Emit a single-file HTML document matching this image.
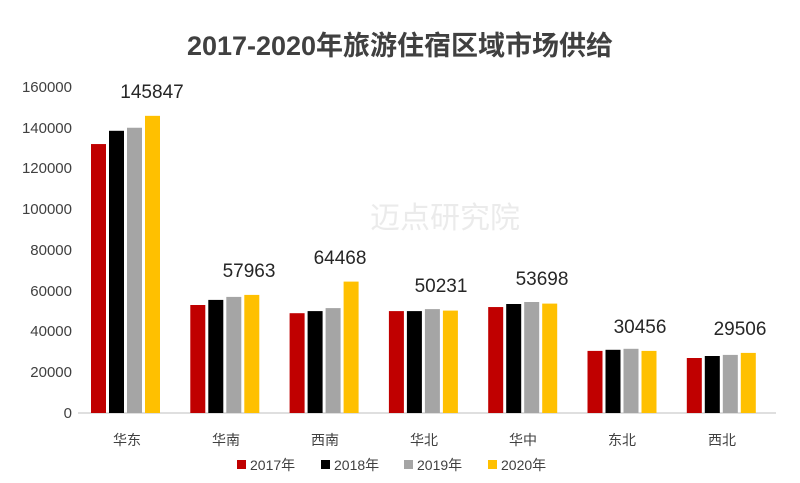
<!DOCTYPE html>
<html><head><meta charset="utf-8"><style>
body{margin:0;background:#fff;}
svg{display:block;font-family:"Liberation Sans","Noto Sans CJK SC",sans-serif;}
</style></head><body>
<svg width="800" height="483" viewBox="0 0 800 483">
<rect width="800" height="483" fill="#fff"/>
<text x="400" y="55" text-anchor="middle" font-size="27" font-weight="bold" fill="#404040">2017-2020年旅游住宿区域市场供给</text>
<g font-size="15" fill="#404040" text-anchor="end">
<text x="72" y="418">0</text>
<text x="72" y="377">20000</text>
<text x="72" y="336">40000</text>
<text x="72" y="296">60000</text>
<text x="72" y="255">80000</text>
<text x="72" y="214">100000</text>
<text x="72" y="173">120000</text>
<text x="72" y="133">140000</text>
<text x="72" y="92">160000</text>
</g>
<line x1="78" y1="413" x2="776" y2="413" stroke="#bfbfbf" stroke-width="1"/>
<g opacity="0.12" font-size="30" fill="#606060"><text x="370" y="228">迈点研究院</text></g>
<g>
<rect x="91" y="144.05" width="15" height="268.95" fill="#c00000"/>
<rect x="109" y="130.8" width="15" height="282.2" fill="#000"/>
<rect x="127" y="127.75" width="15" height="285.25" fill="#a5a5a5"/>
<rect x="145" y="115.84" width="15" height="297.16" fill="#ffc000"/>

<rect x="190.3" y="305" width="15" height="108" fill="#c00000"/>
<rect x="208.3" y="299.9" width="15" height="113.1" fill="#000"/>
<rect x="226.3" y="296.9" width="15" height="116.1" fill="#a5a5a5"/>
<rect x="244.3" y="294.9" width="15" height="118.1" fill="#ffc000"/>

<rect x="289.6" y="313.2" width="15" height="99.8" fill="#c00000"/>
<rect x="307.6" y="311.1" width="15" height="101.9" fill="#000"/>
<rect x="325.6" y="308.1" width="15" height="104.9" fill="#a5a5a5"/>
<rect x="343.6" y="281.6" width="15" height="131.4" fill="#ffc000"/>

<rect x="388.9" y="311.1" width="15" height="101.9" fill="#c00000"/>
<rect x="406.9" y="311.1" width="15" height="101.9" fill="#000"/>
<rect x="424.9" y="309.1" width="15" height="103.9" fill="#a5a5a5"/>
<rect x="442.9" y="310.6" width="15" height="102.4" fill="#ffc000"/>

<rect x="488.2" y="307.05" width="15" height="105.95" fill="#c00000"/>
<rect x="506.2" y="304" width="15" height="109" fill="#000"/>
<rect x="524.2" y="302" width="15" height="111" fill="#a5a5a5"/>
<rect x="542.2" y="303.6" width="15" height="109.4" fill="#ffc000"/>

<rect x="587.5" y="350.9" width="15" height="62.1" fill="#c00000"/>
<rect x="605.5" y="349.8" width="15" height="63.2" fill="#000"/>
<rect x="623.5" y="348.8" width="15" height="64.2" fill="#a5a5a5"/>
<rect x="641.5" y="350.9" width="15" height="62.1" fill="#ffc000"/>

<rect x="686.8" y="358" width="15" height="55" fill="#c00000"/>
<rect x="704.8" y="356" width="15" height="57" fill="#000"/>
<rect x="722.8" y="354.9" width="15" height="58.1" fill="#a5a5a5"/>
<rect x="740.8" y="352.9" width="15" height="60.1" fill="#ffc000"/>
</g>
<g font-size="19" fill="#262626" text-anchor="middle">
<text x="152" y="98">145847</text>
<text x="249" y="277">57963</text>
<text x="340" y="264">64468</text>
<text x="441" y="292">50231</text>
<text x="542" y="285">53698</text>
<text x="640" y="333">30456</text>
<text x="740" y="335">29506</text>
</g>
<g font-size="14" fill="#404040" text-anchor="middle">
<text x="127" y="445">华东</text><text x="226" y="445">华南</text><text x="325" y="445">西南</text><text x="424" y="445">华北</text><text x="523" y="445">华中</text><text x="622" y="445">东北</text><text x="722" y="445">西北</text>
</g>
<g font-size="14" fill="#404040">
<rect x="237" y="460" width="9" height="9" fill="#c00000"/><text x="250" y="470">2017年</text>
<rect x="321" y="460" width="9" height="9" fill="#000"/><text x="334" y="470">2018年</text>
<rect x="404" y="460" width="9" height="9" fill="#a5a5a5"/><text x="417" y="470">2019年</text>
<rect x="488" y="460" width="9" height="9" fill="#ffc000"/><text x="501" y="470">2020年</text>
</g>
</svg>
</body></html>
